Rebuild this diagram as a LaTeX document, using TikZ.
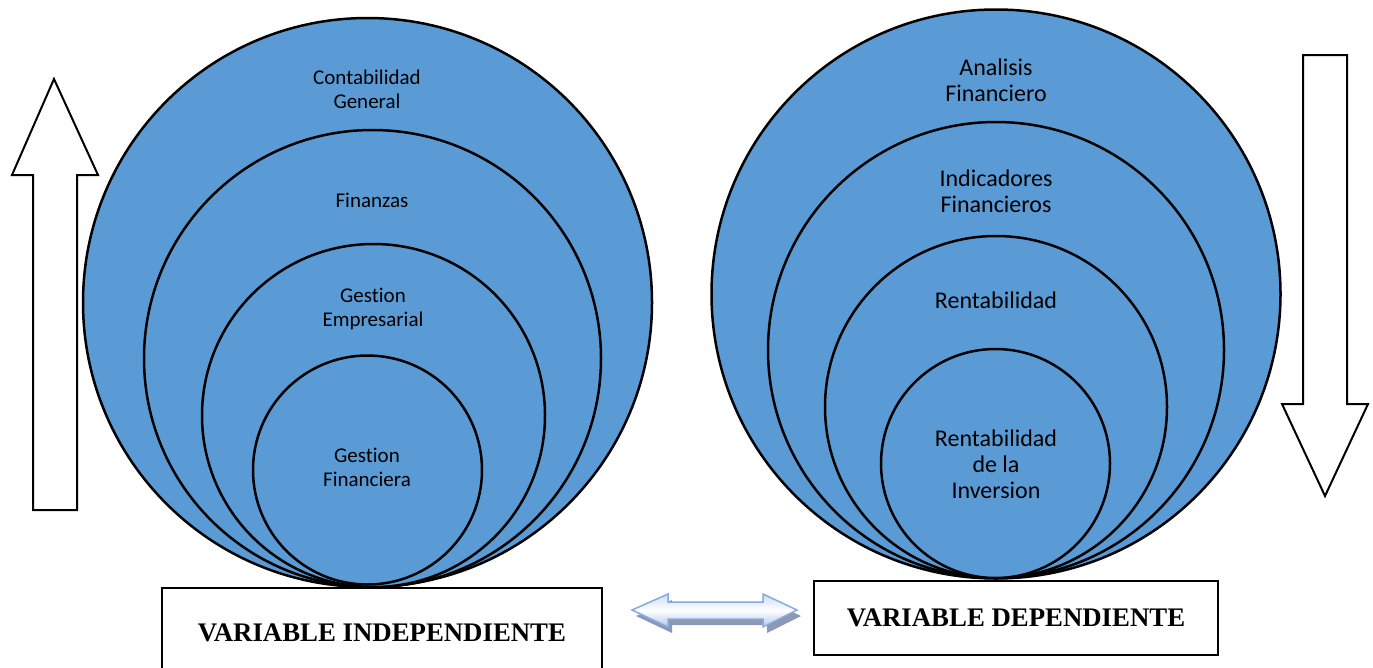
\documentclass[tikz,border=0pt]{standalone}
\usepackage{fontspec}
\setmainfont{Carlito}[Ligatures=NoCommon]
\newfontfamily\tnr{Liberation Serif}
\definecolor{cfill}{RGB}{91,155,213}
\definecolor{arrline}{RGB}{135,170,225}
\definecolor{arrshadow}{RGB}{140,152,180}
\definecolor{arrlow}{RGB}{175,198,235}
\definecolor{arrtop}{RGB}{205,220,245}
\tikzset{
 ring/.style={circle, draw=black, line width=2.5pt, fill=cfill, inner sep=0pt},
 ltxt/.style={align=center, inner sep=0pt, font=\fontsize{21}{24}\selectfont},
 rtxt/.style={align=center, inner sep=0pt, font=\fontsize{24}{26}\selectfont},
 varbox/.style={draw=black, line width=2.5pt, fill=white, inner sep=0pt, font=\tnr\bfseries\fontsize{26.8}{32}\selectfont},
 bigarrow/.style={draw=black, line width=2pt, fill=white, line join=miter},
}
\begin{document}
\begin{tikzpicture}[x=1pt,y=-1pt]
\clip (0,0) rectangle (1373,667);
\fill[white] (0,0) rectangle (1373,667);
% left circles
\node[ring, minimum size=569pt] (L1) at (367.5,302.5) {};
\node[ring, minimum size=457pt] (L2) at (372.5,358.5) {};
\node[ring, minimum size=343pt] (L3) at (373.5,415.5) {};
\node[ring, minimum size=229pt] (L4) at (367.5,470) {};
\node[ltxt] (t1) at (367,89) {Contabilidad\\General};
\node[ltxt] (t2) at (372,200) {Finanzas};
\node[ltxt] (t3) at (373,309) {Gestion\\Empresarial};
\node[ltxt] (t4) at (367,467) {Gestion\\Financiera};
% right circles
\node[ring, minimum size=569pt] (R1) at (996,294) {};
\node[ring, minimum size=456pt] (R2) at (996,350) {};
\node[ring, minimum size=342pt] (R3) at (996,407) {};
\node[ring, minimum size=229pt] (R4) at (995.5,463.5) {};
\node[rtxt] (s1) at (996,80) {Analisis\\Financiero};
\node[rtxt] (s2) at (996,191) {Indicadores\\Financieros};
\node[rtxt] (s3) at (996,300) {Rentabilidad};
\node[rtxt] (s4) at (996,464) {Rentabilidad\\de la\\Inversion};
% arrows
\draw[bigarrow] (33,510) -- (33,175) -- (12,175) -- (54,79) -- (98,175) -- (77,175) -- (77,510) -- cycle;
\draw[bigarrow] (1303,55) -- (1303,404) -- (1282,404) -- (1325,496) -- (1368,404) -- (1347,404) -- (1347,55) -- cycle;
% boxes
\node[varbox, minimum width=440pt, minimum height=90pt] (VI) at (382,633) {VARIABLE INDEPENDIENTE};
\node[varbox, minimum width=404pt, minimum height=74pt] (VD) at (1016,618) {VARIABLE DEPENDIENTE};
% double arrow
\fill[arrshadow] ([shift={(4,6)}]632,610) -- ++(36,-16) -- ++(0,8) -- ++(95,0) -- ++(0,-8) -- ++(34,16) -- ++(-34,17) -- ++(0,-8) -- ++(-95,0) -- ++(0,8) -- cycle;
\shade[top color=arrtop, bottom color=arrlow, middle color=white, draw=arrline, line width=1.5pt, line join=miter]
 (632,610) -- ++(36,-16) -- ++(0,8) -- ++(95,0) -- ++(0,-8) -- ++(34,16) -- ++(-34,17) -- ++(0,-8) -- ++(-95,0) -- ++(0,8) -- cycle;
\end{tikzpicture}
\end{document}
